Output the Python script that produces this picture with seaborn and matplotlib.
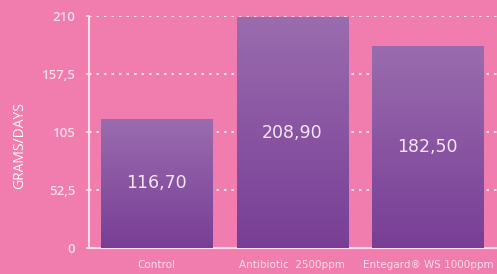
import matplotlib
matplotlib.use("Agg")
import matplotlib.pyplot as plt
import numpy as np
import pandas as pd
import seaborn as sns

categories = ["Control", "Antibiotic  2500ppm", "Entegard® WS 1000ppm"]
values = [116.70, 208.90, 182.50]
yticks = [0, 52.5, 105, 157.5, 210]
ytick_labels = ["0", "52,5", "105", "157,5", "210"]

bg = "#F07DAD"
light = "#FBDDEB"

sns.set_theme(style="white")
plt.rcParams["font.family"] = ["Open Sans", "DejaVu Sans"]

df = pd.DataFrame({"treatment": categories, "grams": values})

fig = plt.figure(figsize=(4.97, 2.74), dpi=100, facecolor=bg)
ax = fig.add_axes([0.179, 0.095, 0.821, 0.847])
ax.set_facecolor(bg)

sns.barplot(data=df, x="treatment", y="grams", ax=ax, width=0.82,
            color="#8A55A3", edgecolor="#C08CC8", linewidth=0.8, zorder=3)

# vertical gradient inside each bar
grad = np.linspace(0, 1, 256).reshape(-1, 1)
top = np.array([154, 108, 174]) / 255
bot = np.array([120, 62, 150]) / 255
img = top + (bot - top) * grad[..., None]
img = img.reshape(256, 1, 3)
for p in ax.patches:
    x0, y0 = p.get_x(), p.get_y()
    w, h = p.get_width(), p.get_height()
    im = ax.imshow(img, extent=[x0, x0 + w, y0, y0 + h], aspect="auto",
                   origin="upper", zorder=3.5)
    im.set_clip_path(p)

for i, v in enumerate(values):
    ax.text(i, v / 2, f"{v:.2f}".replace(".", ","), ha="center", va="center",
            color="#F3E6F3", fontsize=12.5, family="DejaVu Sans", zorder=5)

ax.set_xlim(-0.5, 2.51)
ax.set_ylim(0, 210)
ax.set_yticks(yticks)
ax.set_yticklabels(ytick_labels)
for y in yticks[1:]:
    ax.axhline(y, color=light, linestyle=(0, (1.2, 2.4)), linewidth=1.5, zorder=1)

ax.set_xlabel("")
ax.set_ylabel("GRAMS/DAYS", color="white", fontsize=10)
ax.yaxis.set_label_coords(-0.152, 0.44)
ax.tick_params(axis="y", colors=light, labelsize=9.5, length=2, width=1.2,
               direction="out", pad=8, left=True)
ax.tick_params(axis="x", colors=light, labelsize=7.5, length=0, pad=9)
for t in ax.get_yticklabels():
    t.set_fontweight("semibold")
for t in ax.get_xticklabels():
    t.set_family("DejaVu Sans")

for s in ["top", "right"]:
    ax.spines[s].set_visible(False)
ax.spines["left"].set_color(light)
ax.spines["left"].set_linewidth(1.5)
ax.spines["bottom"].set_color(light)
ax.spines["bottom"].set_linewidth(1.5)

fig.savefig("out.png", dpi=100, facecolor=bg)
